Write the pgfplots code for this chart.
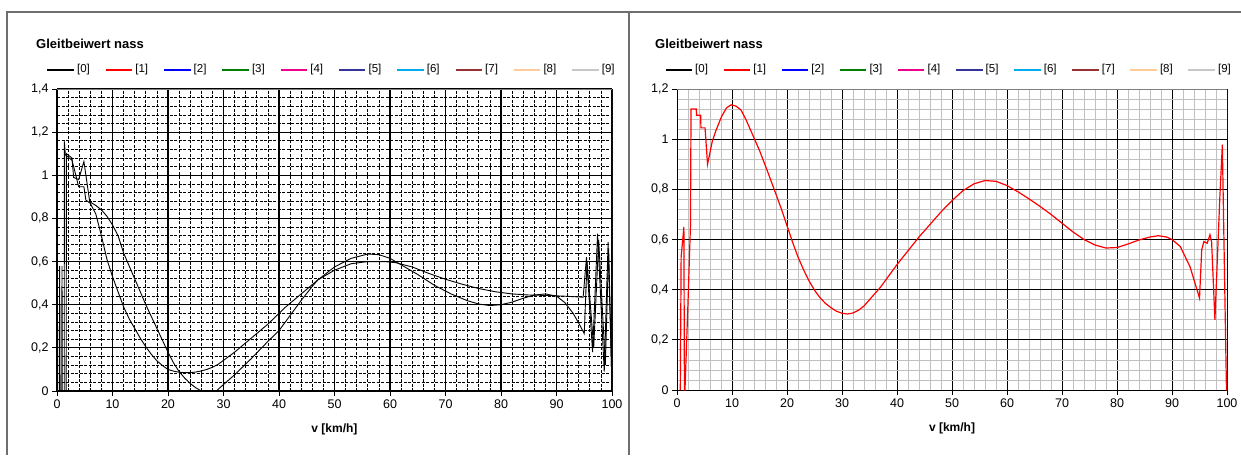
\documentclass[border=0pt]{standalone}
\usepackage{pgfplots}
\pgfplotsset{compat=1.18}
\usepackage{fontspec}
\setmainfont{Liberation Sans}
\definecolor{panelgray}{HTML}{6E6E6E}
\definecolor{cgreen}{HTML}{008000}
\definecolor{cnavy}{HTML}{333399}
\definecolor{cdred}{HTML}{993333}
\definecolor{cpeach}{HTML}{FFCC99}
\definecolor{clgray}{HTML}{C8C8C8}
\definecolor{cminor}{HTML}{C0C0C0}
\pgfplotsset{
  chart/.style={
    scale only axis, height=302pt,
    xmin=0, xmax=100, xtick={0,10,20,30,40,50,60,70,80,90,100}, minor x tick num=4,
    ymin=0,
    axis x line*=bottom, axis y line*=left,
    axis line style={black, line width=0.8pt, -},
    tick align=outside, major tick length=5pt, minor tick length=0pt,
    tick style={black, line width=0.8pt},
    grid=both,
    ticklabel style={font=\fontsize{12.5}{14}\selectfont},
    /pgf/number format/assume math mode=true,
    /pgf/number format/use comma,
    xlabel={v [km/h]},
    xlabel style={at={(axis description cs:0.5,0)}, anchor=center, yshift=-38pt,
      font=\fontsize{12}{14}\selectfont\bfseries},
    clip=true,
  }
}
\begin{document}
\begin{tikzpicture}[x=1pt,y=1pt]
\path[use as bounding box] (0,0) rectangle (1241,455);
\draw[panelgray, line width=1.5pt] (7,0) -- (7,443) -- (1241,443);
\draw[panelgray, line width=1.5pt] (629,0) -- (629,443);

% titles
\node[anchor=west, inner sep=0, font=\fontsize{13}{15}\selectfont\bfseries] at (36,411.5) {Gleitbeiwert nass};
\node[anchor=west, inner sep=0, font=\fontsize{13}{15}\selectfont\bfseries] at (655,411.5) {Gleitbeiwert nass};

% legends
\foreach \i/\c in {0/black,1/red,2/blue,3/cgreen,4/magenta,5/cnavy,6/cyan,7/cdred,8/cpeach,9/clgray}{
  \draw[\c, line width=1.3pt] ({47.4+58.3*\i},385) -- ++(26.5,0);
  \node[anchor=west, inner sep=0, font=\fontsize{11.5}{13}\selectfont] at ({47.4+58.3*\i+29.5},385) {[\i]};
  \draw[\c, line width=1.3pt] ({665.5+58.1*\i},385) -- ++(26.5,0);
  \node[anchor=west, inner sep=0, font=\fontsize{11.5}{13}\selectfont] at ({665.5+58.1*\i+29.5},385) {[\i]};
}

% left chart
\begin{axis}[chart, at={(57pt,64pt)}, anchor=south west, width=555pt,
  ymax=1.4, ytick={0,0.2,0.4,0.6,0.8,1,1.2,1.4}, minor y tick num=4,
  major grid style={black, line width=1.1pt},
  minor grid style={black, line width=0.75pt, dash pattern=on 3pt off 1.5pt},
]
\addplot[black, line width=0.9pt] coordinates {
(0.4,0) (0.48,0.58) (0.56,0) (1.3,0) (1.33,1.157) (1.5,1.095) (2.7,1.07) (3.0,1.04)
(3.9,0.947) (4.85,0.947) (5.2,0.885) (6.0,0.87) (7,0.82) (8,0.72) (9,0.61) (10,0.53)
(11,0.46) (12,0.39) (13,0.335) (14,0.29) (15,0.245) (16,0.205) (17,0.17) (18,0.14)
(19,0.118) (20,0.1) (21,0.092) (22,0.087) (23,0.085) (24,0.085) (25,0.088) (26,0.093)
(27,0.1) (28,0.11) (29,0.123) (32,0.18) (35,0.245) (38,0.31) (41,0.385) (44,0.45)
(47,0.515) (50,0.56) (53,0.59) (56,0.6) (59,0.6) (61,0.595) (64,0.575) (67,0.545)
(70,0.518) (73,0.495) (76,0.475) (79,0.46) (82,0.45) (85,0.445) (88,0.443) (91,0.44)
(94.8,0.435) (95.4,0.62) (96.5,0.18) (97.4,0.73) (98.6,0.09) (99.3,0.69) (100,0.02)
};
\addplot[black, line width=0.9pt] coordinates {
(0.85,0) (0.9,0.58) (0.95,0) (1.65,0) (1.7,1.1) (2.7,1.08) (3.0,0.99) (3.9,0.98)
(4.85,1.064) (5.9,0.877) (7,0.86) (8,0.84) (9,0.81) (10,0.77) (11,0.72) (12,0.64)
(13,0.58) (14,0.52) (15,0.46) (16,0.4) (17,0.345) (18,0.29) (19,0.235) (20,0.18)
(21,0.13) (22,0.09) (23,0.06) (24,0.035) (25,0.015) (26,0) (27,-0.015) (28,-0.01)
(28.7,0) (30,0.03) (32,0.075) (35,0.15) (38,0.23) (40,0.28) (42,0.35) (44,0.42)
(46,0.485) (47,0.515) (50,0.575) (53,0.615) (56,0.635) (58,0.632) (60,0.615) (62,0.585)
(65,0.54) (68,0.49) (71,0.45) (74,0.418) (76,0.403) (78,0.396) (80,0.4) (82,0.412)
(84,0.43) (86,0.445) (88,0.45) (90,0.44) (91.5,0.41) (93,0.36) (94,0.315) (95,0.266)
(95.5,0.6) (96.7,0.2) (97.6,0.7) (98.8,0.12) (99.4,0.66) (100,0)
};
\draw[gray, line width=0.8pt] (rel axis cs:0,1) -- (rel axis cs:1,1) -- (rel axis cs:1,0);
\end{axis}

% right chart
\begin{axis}[chart, at={(677pt,65pt)}, anchor=south west, width=550pt, height=301pt,
  ymax=1.2, ytick={0,0.2,0.4,0.6,0.8,1,1.2}, minor y tick num=4,
  major grid style={black, line width=0.9pt},
  minor grid style={cminor, line width=0.8pt},
]
\addplot[red, line width=1.2pt] coordinates {
(0.6,0) (0.75,0.53) (1.25,0.65) (1.35,0) (1.45,0) (2.0,0.35) (2.45,0.66) (2.55,1.12)
(3.5,1.12) (3.55,1.095) (4.3,1.095) (4.35,1.045) (5.1,1.045) (5.55,0.9) (6.4,0.99)
(7,1.03) (8.1,1.09) (9,1.125) (9.85,1.137) (10.7,1.132) (11.6,1.117) (12.5,1.08)
(13.7,1.02) (15,0.955) (16.4,0.875) (18,0.78) (19,0.72) (20,0.655) (21,0.59)
(22,0.53) (23,0.48) (24,0.435) (25,0.398) (26,0.368) (27,0.345) (28,0.328) (29,0.314)
(30,0.306) (31,0.303) (32,0.307) (33,0.318) (34,0.335) (35,0.36) (36,0.385) (37,0.41)
(38,0.44) (39,0.47) (40,0.5) (42,0.555) (44,0.61) (46,0.66) (48,0.71) (50,0.755)
(52,0.795) (54,0.822) (56,0.835) (58,0.832) (60,0.815) (62,0.79) (64,0.762) (66,0.732)
(68,0.7) (70,0.665) (72,0.63) (74,0.6) (76,0.578) (78,0.566) (80,0.568) (82,0.582)
(84,0.598) (86,0.61) (87.5,0.615) (89,0.61) (90,0.6) (91.5,0.572) (93.3,0.49) (95,0.366)
(95.4,0.559) (95.8,0.592) (96.4,0.585) (96.9,0.619) (97.2,0.59) (97.8,0.28)
(98.7,0.77) (99.15,0.978) (99.9,0) (100,0)
};
\draw[gray, line width=0.8pt] (rel axis cs:0,1) -- (rel axis cs:1,1) -- (rel axis cs:1,0);
\end{axis}
\end{tikzpicture}
\end{document}
